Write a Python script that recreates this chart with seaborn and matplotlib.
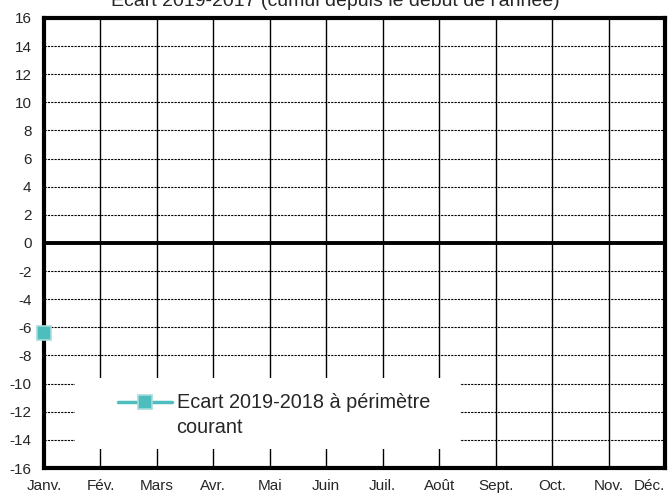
import numpy as np
import pandas as pd
import matplotlib
matplotlib.use("Agg")
import matplotlib.pyplot as plt
from matplotlib.patches import Rectangle
from matplotlib.legend_handler import HandlerLine2D
import seaborn as sns

months = ['Janv.', 'Fév.', 'Mars', 'Avr.', 'Mai', 'Juin', 'Juil.', 'Août',
          'Sept.', 'Oct.', 'Nov.', 'Déc.']
ecart_values = [-6.4]
series_label = 'Ecart 2019-2018 à périmètre\ncourant'
title = "Ecart 2019-2017 (cumul depuis le début de l'année)"
y_ticks = list(range(-16, 17, 2))


class RaisedLineHandler(HandlerLine2D):
    """Line handle aligned with the first line of a two-line label."""

    def create_artists(self, legend, orig_handle, xdescent, ydescent,
                       width, height, fontsize, trans):
        return super().create_artists(legend, orig_handle, xdescent,
                                      ydescent - 19, width, height,
                                      fontsize, trans)


sns.set_style("white")
plt.rcParams['font.family'] = ['Liberation Sans', 'DejaVu Sans']

df = pd.DataFrame({'mois': np.arange(len(ecart_values)), 'ecart': ecart_values})

fig = plt.figure(figsize=(6.7, 4.97), dpi=100)
ax = fig.add_axes([44 / 670, 1 - 468 / 497, (665 - 44) / 670, (468 - 18) / 497])

# grid
for yv in y_ticks:
    if yv not in (-16, 0, 16):
        ax.axhline(yv, color='black', lw=0.8, ls=(0, (2, 1)), zorder=1)
for xv in range(1, len(months) - 1):
    ax.axvline(xv, color='black', lw=1.0, zorder=1)
ax.axhline(0, color='black', lw=2.8, zorder=2)

# white box behind the legend (hides the grid like the original)
ax.add_patch(Rectangle((31 / 621, 19 / 450), 385 / 621, 71 / 450,
                       transform=ax.transAxes, facecolor='white',
                       edgecolor='none', zorder=3))

sns.lineplot(data=df, x='mois', y='ecart', ax=ax, color='#4DBDBD', lw=2.5,
             marker='s', markersize=10, markeredgecolor='#A8DCDC',
             markeredgewidth=1.2, label=series_label, clip_on=False, zorder=5)

ax.set_xlim(0, len(months) - 1)
ax.set_ylim(-16, 16)
ax.set_xticks(range(len(months)))
ax.set_xticklabels(months, fontsize=11)
ax.set_yticks(y_ticks)
ax.set_yticklabels([str(v) for v in y_ticks], fontsize=11)
ax.tick_params(axis='both', length=0)
ax.tick_params(axis='y', pad=9)
ax.tick_params(axis='x', pad=8)
ax.get_xticklabels()[-1].set_horizontalalignment('right')
ax.get_xticklabels()[-1].set_x(len(months) - 1)
ax.set_xlabel('')
ax.set_ylabel('')
for sp in ax.spines.values():
    sp.set_linewidth(3)
    sp.set_color('black')

handles, labels = ax.get_legend_handles_labels()
leg = ax.legend(handles, labels, loc='center left',
                bbox_to_anchor=(74 / 621, 53 / 450),
                handler_map={handles[0]: RaisedLineHandler()},
                frameon=False, fontsize=14.3, handlelength=2.7,
                borderpad=0, handletextpad=0.25, borderaxespad=0)
leg.set_zorder(6)
for t in leg.get_texts():
    t.set_linespacing(1.45)

fig.text(0.5, 1 - 6 / 497, title, ha='center', va='baseline', fontsize=14)

fig.savefig('out.png', dpi=100)
